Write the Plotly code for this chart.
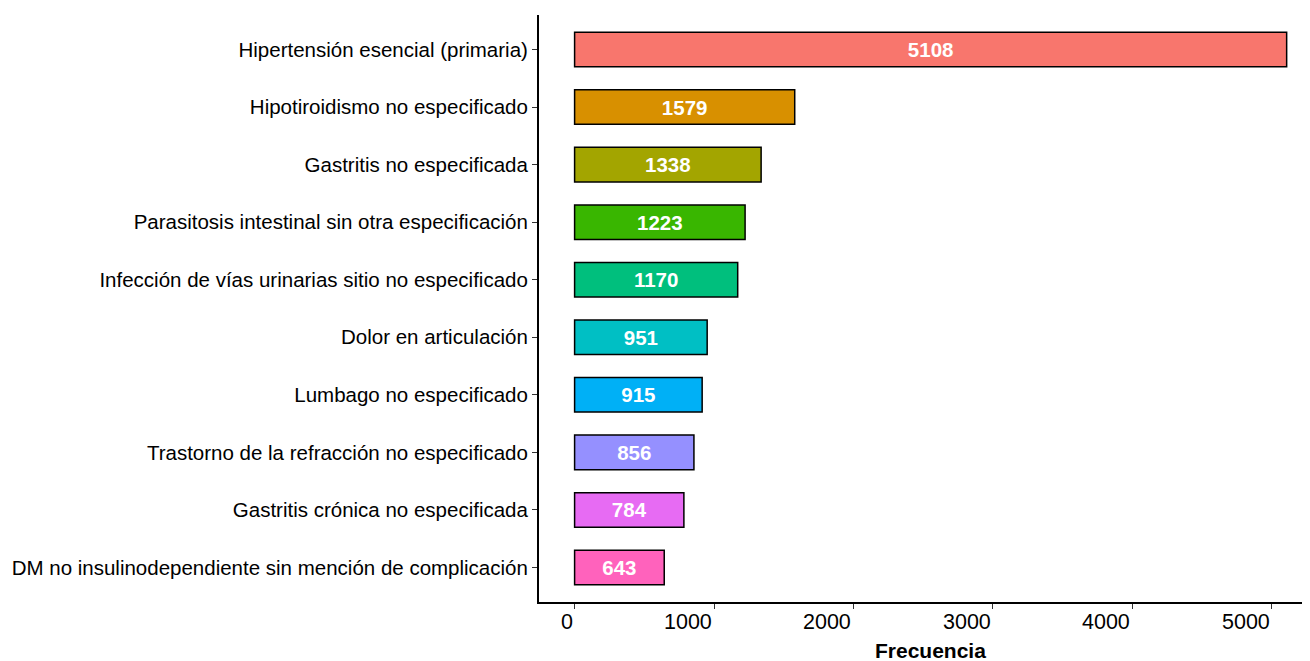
import plotly.graph_objects as go

categories = [
    "Hipertensión esencial (primaria)",
    "Hipotiroidismo no especificado",
    "Gastritis no especificada",
    "Parasitosis intestinal sin otra especificación",
    "Infección de vías urinarias sitio no especificado",
    "Dolor en articulación",
    "Lumbago no especificado",
    "Trastorno de la refracción no especificado",
    "Gastritis crónica no especificada",
    "DM no insulinodependiente sin mención de complicación",
]
values = [5108, 1579, 1338, 1223, 1170, 951, 915, 856, 784, 643]
colors = ["#F8766D", "#D89000", "#A3A500", "#39B600", "#00BF7D",
          "#00BFC4", "#00B0F6", "#9590FF", "#E76BF3", "#FF62BC"]
x_ticks = [0, 1000, 2000, 3000, 4000, 5000]
x_title = "Frecuencia"

FONT = "Liberation Sans, Arial, sans-serif"

fig = go.Figure()
fig.add_trace(go.Bar(
    y=categories, x=values, orientation="h",
    marker=dict(color=colors, line=dict(color="black", width=1.5)),
    width=0.6,
    text=[str(v) for v in values],
    textposition="inside", insidetextanchor="middle", textangle=0,
    textfont=dict(color="white", size=20.5, family=FONT, weight="bold"),
    cliponaxis=False,
    showlegend=False,
))

vmax = max(values)
xmin = -0.05 * vmax
xmax_visible = xmin + 771 / 0.1394

annotations = []
for t in x_ticks:
    annotations.append(dict(
        x=t, xref="x", y=0, yref="paper", yanchor="middle", xanchor="right",
        yshift=-20, text=str(t), showarrow=False,
        font=dict(size=21.5, family=FONT, color="black"),
    ))
annotations.append(dict(
    x=vmax / 2, xref="x", y=0, yref="paper", yanchor="middle", xanchor="center",
    yshift=-48, text="<b>" + x_title + "</b>", showarrow=False,
    font=dict(size=21, family=FONT, color="black"),
))

fig.update_layout(
    width=1302, height=653,
    margin=dict(l=531, r=0, t=7, b=59, pad=0),
    paper_bgcolor="white", plot_bgcolor="white",
    font=dict(family=FONT, color="black"),
    bargap=0.4,
    annotations=annotations,
    xaxis=dict(
        range=[xmin, xmax_visible], tickvals=x_ticks, showticklabels=False,
        ticks="outside", ticklen=5, tickwidth=1, tickcolor="#333333",
        showline=True, linecolor="black", linewidth=2,
        showgrid=False, zeroline=False,
    ),
    yaxis=dict(
        categoryorder="array", categoryarray=list(reversed(categories)),
        range=[-0.6, len(categories) - 0.4],
        ticks="outside", ticklen=5, tickwidth=1, tickcolor="#333333",
        showline=True, linecolor="black", linewidth=2,
        showgrid=False, zeroline=False,
        tickfont=dict(size=20.5, family=FONT, color="black"),
    ),
)

fig.write_html("out.html")
